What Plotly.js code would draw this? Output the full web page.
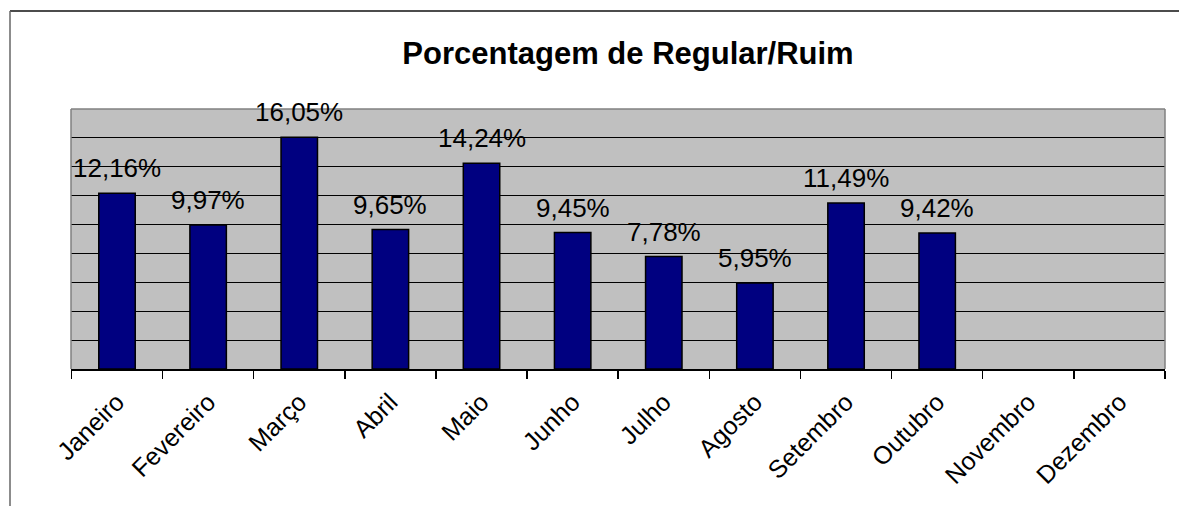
<!DOCTYPE html>
<html>
<head>
<meta charset="utf-8">
<script src="https://cdn.plot.ly/plotly-3.0.1.min.js"></script>
<style>html,body{margin:0;padding:0;background:#fff;}#chart{width:1179px;height:506px;}</style>
</head>
<body>
<div id="chart"></div>
<script>
const months = ["Janeiro","Fevereiro","Março","Abril","Maio","Junho","Julho","Agosto","Setembro","Outubro","Novembro","Dezembro"];
const percentRegularRuim = [12.16, 9.97, 16.05, 9.65, 14.24, 9.45, 7.78, 5.95, 11.49, 9.42, null, null];
const chartTitle = "Porcentagem de Regular/Ruim";

const fmt = v => v.toFixed(2).replace('.', ',') + '%';

const trace = {
  type: 'bar',
  x: months,
  y: percentRegularRuim,
  marker: {color: '#000080', line: {color: '#000000', width: 1.5}},
  hoverinfo: 'none'
};

const annotations = [];
months.forEach((m, i) => {
  const v = percentRegularRuim[i];
  if (v === null) return;
  annotations.push({
    x: m, y: v, xref: 'x', yref: 'y',
    text: fmt(v), showarrow: false,
    yanchor: 'bottom', yshift: 8,
    font: {family: 'Liberation Sans, Arial, sans-serif', size: 26, color: '#000'}
  });
});

const L = 71, R = 14, T = 109, B = 137, W = 1179, H = 506;
const pw = W - L - R, ph = H - T - B;
const px = v => (v - L) / pw;
const py = v => (H - B - v) / ph;

const shapes = [
  {type: 'line', xref: 'paper', yref: 'paper', x0: 0, x1: 1, y0: 1, y1: 1, line: {color: '#808080', width: 1.5}, layer: 'above'},
  {type: 'line', xref: 'paper', yref: 'paper', x0: 0, x1: 0, y0: 0, y1: 1, line: {color: '#808080', width: 1.5}, layer: 'above'},
  {type: 'line', xref: 'paper', yref: 'paper', x0: 1, x1: 1, y0: 0, y1: 1, line: {color: '#808080', width: 1.5}, layer: 'above'},
  {type: 'line', xref: 'paper', yref: 'paper', x0: px(10), x1: px(1179), y0: py(11), y1: py(11), line: {color: '#111', width: 1.5}},
  {type: 'line', xref: 'paper', yref: 'paper', x0: px(10), x1: px(10), y0: py(11), y1: py(506), line: {color: '#666', width: 1.5}}
];

const layout = {
  width: W, height: H,
  margin: {l: L, r: R, t: T, b: B, pad: 0},
  paper_bgcolor: '#ffffff',
  plot_bgcolor: '#C0C0C0',
  showlegend: false,
  bargap: 0.6,
  font: {family: 'Liberation Sans, Arial, sans-serif', color: '#000'},
  title: {
    text: '<b>' + chartTitle + '</b>',
    font: {family: 'Liberation Sans, Arial, sans-serif', size: 31, color: '#000'},
    xref: 'paper', x: (628 - L) / pw, xanchor: 'center',
    yref: 'container', y: 1 - 53 / H, yanchor: 'middle'
  },
  xaxis: {
    type: 'category',
    showgrid: false,
    showline: true, linecolor: '#000', linewidth: 1.5,
    ticks: 'outside', ticklen: 8, tickcolor: '#000', tickwidth: 1.5,
    tickson: 'boundaries',
    tickangle: -45,
    ticklabelstandoff: 7,
    tickfont: {family: 'Liberation Sans, Arial, sans-serif', size: 25, color: '#000'},
    zeroline: false, fixedrange: true
  },
  yaxis: {
    range: [0, 18], dtick: 2,
    showticklabels: false, ticks: '',
    showgrid: true, gridcolor: '#000', gridwidth: 1,
    zeroline: false, showline: false, fixedrange: true
  },
  annotations: annotations,
  shapes: shapes
};

Plotly.newPlot('chart', [trace], layout, {displayModeBar: false, staticPlot: true});
</script>
</body>
</html>
